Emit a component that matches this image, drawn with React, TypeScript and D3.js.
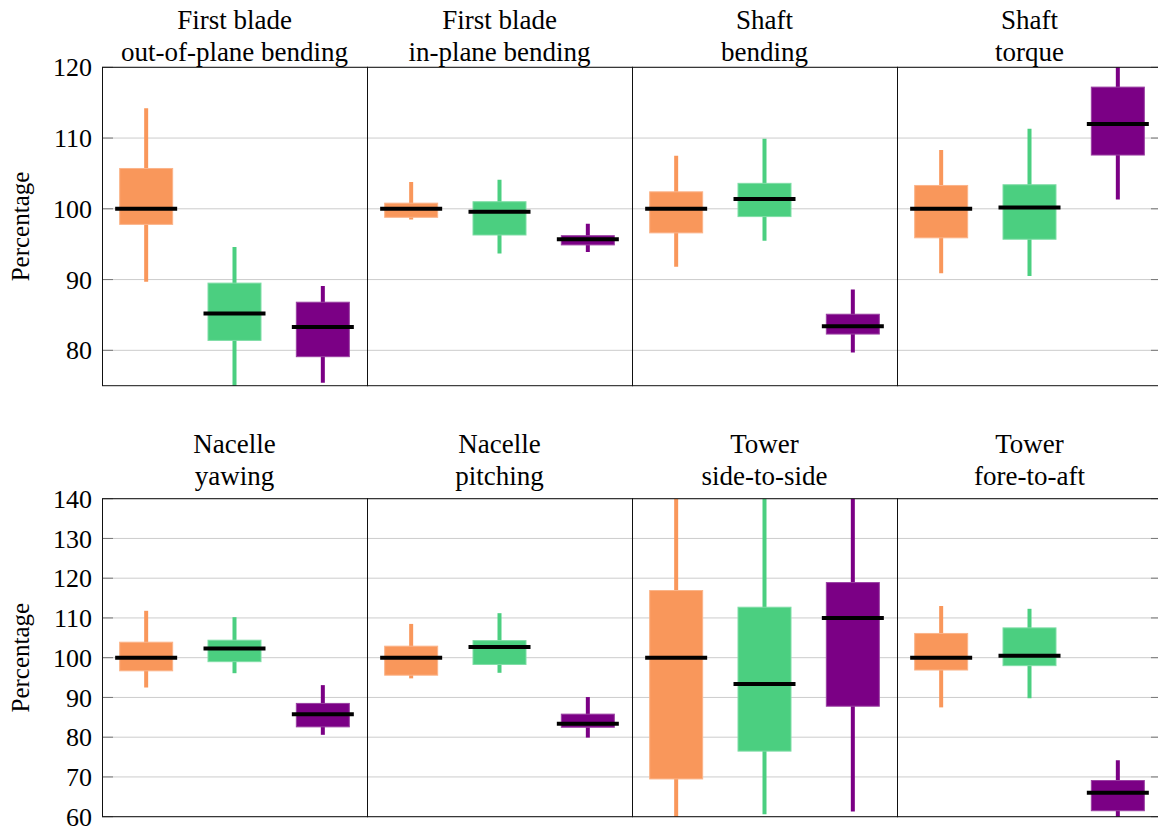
import React from "react";
import * as d3 from "d3";

// Panel titles (two lines each)
const titles: string[][] = [
  ["First blade", "out-of-plane bending"],
  ["First blade", "in-plane bending"],
  ["Shaft", "bending"],
  ["Shaft", "torque"],
  ["Nacelle", "yawing"],
  ["Nacelle", "pitching"],
  ["Tower", "side-to-side"],
  ["Tower", "fore-to-aft"],
];

// [lower whisker, q1, median, q3, upper whisker] per panel
const orangeStats: number[][] = [
  [89.7, 97.8, 100, 105.7, 114.2],
  [98.5, 98.8, 100, 100.8, 103.8],
  [91.8, 96.6, 100, 102.4, 107.5],
  [90.9, 95.9, 100, 103.3, 108.3],
  [92.5, 96.7, 100, 103.9, 111.8],
  [94.8, 95.6, 100, 102.9, 108.5],
  [58, 69.5, 100, 116.9, 145],
  [87.5, 96.9, 100, 106.1, 113],
];
const greenStats: number[][] = [
  [74, 81.4, 85.2, 89.5, 94.6],
  [93.7, 96.3, 99.6, 101.0, 104.1],
  [95.5, 98.9, 101.4, 103.6, 109.9],
  [90.5, 95.7, 100.2, 103.4, 111.3],
  [96.1, 99.0, 102.3, 104.4, 110.2],
  [96.2, 98.3, 102.7, 104.3, 111.2],
  [60.6, 76.5, 93.4, 112.7, 145],
  [89.8, 98.0, 100.5, 107.5, 112.3],
];
const purpleStats: number[][] = [
  [75.4, 79.1, 83.3, 86.8, 89.1],
  [93.9, 94.9, 95.7, 96.2, 97.9],
  [79.7, 82.3, 83.4, 85.1, 88.6],
  [101.3, 107.6, 112.0, 117.2, 122],
  [80.6, 82.6, 85.8, 88.5, 93.1],
  [79.9, 82.5, 83.4, 85.8, 90.1],
  [61.3, 87.8, 110.0, 118.9, 145],
  [59, 61.5, 66.0, 69.1, 74.2],
];

const topTicks = [80, 90, 100, 110, 120];
const bottomTicks = [60, 70, 80, 90, 100, 110, 120, 130, 140];
const yLabel = "Percentage";

const seriesColors = ["#F9975B", "#4BCF80", "#7B0085"];
const seriesEdge = ["#FBB48A", "#7FDDA6", "#9A40A2"];

const W = 1158;
const H = 827;
const left = 102;
const panelW = 265;
const FONT = "Liberation Serif, Tinos, Times New Roman, Times, DejaVu Serif, serif";

const rows = [
  { domain: [75, 120], range: [385.7, 67.3], ticks: topTicks, t1: 29, t2: 61 },
  { domain: [60, 140], range: [816.7, 498.7], ticks: bottomTicks, t1: 453, t2: 485 },
];

export default function App() {
  const allStats = [orangeStats, greenStats, purpleStats];
  const right = left + panelW * 4;
  return (
    <svg width={W} height={H} style={{ position: "absolute", left: 0, top: 0, background: "#fff" }}>
      <defs>
        {rows.map((r, ri) => (
          <clipPath id={`clip${ri}`} key={ri}>
            <rect x={left} y={r.range[1]} width={right - left} height={r.range[0] - r.range[1]} />
          </clipPath>
        ))}
      </defs>
      {rows.map((r, ri) => {
        const y = d3.scaleLinear().domain(r.domain).range(r.range);
        const top = r.range[1];
        const bottom = r.range[0];
        return (
          <g key={ri}>
            {r.ticks.map((t) => (
              <line key={t} x1={left} x2={right} y1={y(t)} y2={y(t)} stroke="#cccccc" strokeWidth={1} />
            ))}
            {r.ticks.map((t) => (
              <g key={"tk" + t}>
                <line x1={left} x2={left + 11} y1={y(t)} y2={y(t)} stroke="#777" strokeWidth={1} />
                <line x1={right - 11} x2={right} y1={y(t)} y2={y(t)} stroke="#777" strokeWidth={1} />
              </g>
            ))}
            {r.ticks.map((t) => (
              <text key={"tl" + t} x={92} y={y(t)} dy="0.35em" textAnchor="end" style={{ fontFamily: FONT }} fontSize={26} fill="#000">
                {t}
              </text>
            ))}
            <text
              transform={`translate(29,${(top + bottom) / 2}) rotate(-90)`}
              textAnchor="middle"
              style={{ fontFamily: FONT }}
              fontSize={25}
              fill="#000"
            >
              {yLabel}
            </text>
            {[0, 1, 2, 3].map((pi) => {
              const idx = ri * 4 + pi;
              const x0 = left + pi * panelW;
              const x = d3
                .scaleBand<number>()
                .domain([0, 1, 2])
                .range([x0, x0 + panelW])
                .paddingInner(0.4)
                .paddingOuter(0.2);
              const bw = x.bandwidth();
              return (
                <g key={pi}>
                  <g clipPath={`url(#clip${ri})`}>
                    {allStats.map((s, si) => {
                      const [lo, q1, med, q3, hi] = s[idx];
                      const cx = (x(si) as number) + bw / 2;
                      return (
                        <g key={si}>
                          <line x1={cx} x2={cx} y1={y(hi)} y2={y(lo)} stroke={seriesColors[si]} strokeWidth={4} />
                          <rect
                            x={cx - bw / 2}
                            y={y(q3)}
                            width={bw}
                            height={y(q1) - y(q3)}
                            fill={seriesColors[si]}
                            stroke={seriesEdge[si]}
                            strokeWidth={1}
                          />
                          <line x1={cx - bw / 2 - 4.5} x2={cx + bw / 2 + 4.5} y1={y(med)} y2={y(med)} stroke="#000" strokeWidth={4} />
                        </g>
                      );
                    })}
                  </g>
                  <rect x={x0 + 0.5} y={top} width={panelW} height={bottom - top} fill="none" stroke="#111" strokeWidth={1} />
                  <text x={x0 + panelW / 2} y={r.t1} textAnchor="middle" style={{ fontFamily: FONT }} fontSize={27} fill="#000">
                    {titles[idx][0]}
                  </text>
                  <text x={x0 + panelW / 2} y={r.t2} textAnchor="middle" style={{ fontFamily: FONT }} fontSize={27} fill="#000">
                    {titles[idx][1]}
                  </text>
                </g>
              );
            })}
          </g>
        );
      })}
    </svg>
  );
}
